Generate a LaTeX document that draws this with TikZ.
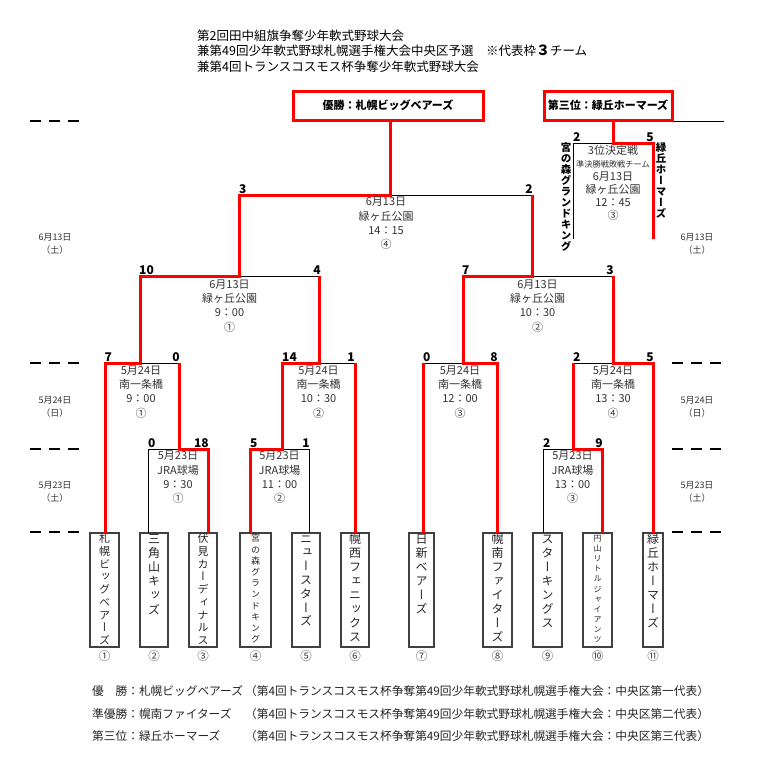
\documentclass[tikz,border=0pt]{standalone}
\usepackage{fontspec}
\setmainfont{Noto Sans CJK JP}
\newfontfamily\tatefont[RawFeature=+vert]{Noto Sans CJK JP}
\usetikzlibrary{positioning}

\makeatletter
% vertical team name: size, pitch, characters
\newcommand\tate[3]{\vbox to 114pt{\tatefont\fontsize{#1}{#2}\selectfont\lineskiplimit=-50pt
  \vskip\dimexpr5.5pt-#1pt/2\relax
  \@tfor\tate@c:=#3\do{\hbox to 1.2em{\hss\vrule height .88em depth .12em width 0pt\smash{\tate@c}\hss}}%
  \vss}}
\makeatother

\begin{document}
\begin{tikzpicture}[x=1pt,y=-1pt,
  wonline/.style={draw=red,line width=3pt},
  lostline/.style={draw=black,line width=0.9pt},
  marker/.style={line width=2pt,dash pattern=on 11pt off 8pt},
  team/.style={draw=black!75,line width=1.2pt,inner sep=0pt,minimum height=114pt,text=black!85},
  champ/.style={draw=red,line width=3pt,fill=white,inner sep=0pt,minimum height=29pt,font=\fontsize{11}{11}\selectfont\bfseries},
  info/.style={anchor=north,inner sep=0pt,align=center,font=\fontsize{11}{14.3}\selectfont,text=black!80},
  scl/.style={anchor=base west,inner sep=0pt,font=\fontsize{12}{12}\selectfont\bfseries},
  scr/.style={anchor=base east,inner sep=0pt,font=\fontsize{12}{12}\selectfont\bfseries},
  sidelbl/.style={align=center,inner sep=0pt,font=\fontsize{9}{13}\selectfont,text=black!80},
  num/.style={inner sep=0pt,font=\fontsize{11.5}{11.5}\selectfont,text=black!75},
  foot/.style={anchor=west,inner sep=0pt,font=\fontsize{11.7}{11.7}\selectfont,text=black!85}]
\useasboundingbox[fill=white] (0,0) rectangle (759,764);

% title
\node[anchor=north west,inner sep=0pt,align=left,font=\fontsize{12.5}{15.5}\selectfont] (title) at (197,29.5) {第2回田中組旗争奪少年軟式野球大会\\兼第49回少年軟式野球札幌選手権大会中央区予選　※代表枠{\bfseries\fontsize{14}{14}\selectfont ３}チーム\\兼第4回トランスコスモス杯争奪少年軟式野球大会};

% day markers
\draw[marker] (30,121) -- (79,121);
\draw[marker] (30,363) -- (79,363);
\draw[marker] (30,449) -- (79,449);
\draw[marker] (30,532) -- (79,532);
\draw[marker] (672,363) -- (721,363);
\draw[marker] (672,449) -- (721,449);
\draw[marker] (672,532) -- (721,532);
\node[sidelbl] (day_l1) at (55,243.5) {6月13日\\（土）};
\node[sidelbl] (day_l2) at (55,407) {5月24日\\（日）};
\node[sidelbl] (day_l3) at (55,491.5) {5月23日\\（土）};
\node[sidelbl] (day_r1) at (697,243.5) {6月13日\\（土）};
\node[sidelbl] (day_r2) at (697,407) {5月24日\\（日）};
\node[sidelbl] (day_r3) at (697,491.5) {5月23日\\（土）};

% result boxes
\node[champ,minimum width=190pt] (box_win) at (388,105.5) {優勝：札幌ビッグベアーズ};
\node[champ,minimum width=128pt] (box_3rd) at (608,105.5) {第三位：緑丘ホーマーズ};
\draw[line width=1.4pt] (box_3rd.south east) -- ++(50,0);

% teams
\node[team,minimum width=29pt] (tm_1) at (104.5,590) {\tate{11}{12.75}{札幌ビッグベアーズ}};
\node[team,minimum width=28pt] (tm_2) at (154,590) {\tate{12}{14.2}{三角山キッズ}};
\node[team,minimum width=28pt] (tm_3) at (203,590) {\tate{11}{12.75}{伏見カーディナルス}};
\node[team,minimum width=31pt] (tm_4) at (255.5,590) {\tate{9}{11.2}{宮の森グランドキング}};
\node[team,minimum width=28pt] (tm_5) at (306,590) {\tate{12}{13.8}{ニュースターズ}};
\node[team,minimum width=28pt] (tm_6) at (355,590) {\tate{12}{14}{幌西フェニックス}};
\node[team,minimum width=25pt] (tm_7) at (421.5,590) {\tate{12}{14}{日新ベアーズ}};
\node[team,minimum width=29pt] (tm_8) at (497.5,590) {\tate{12}{14}{幌南ファイターズ}};
\node[team,minimum width=29pt] (tm_9) at (547.5,590) {\tate{12}{14}{スターキングス}};
\node[team,minimum width=29pt] (tm_10) at (597.5,590) {\tate{8}{10.1}{円山リトルジャイアンツ}};
\node[team,minimum width=20pt] (tm_11) at (653,590) {\tate{12}{14}{緑丘ホーマーズ}};
\node[num,below=3pt of tm_1] (no_1) {①};
\node[num,below=3pt of tm_2] (no_2) {②};
\node[num,below=3pt of tm_3] (no_3) {③};
\node[num,below=3pt of tm_4] (no_4) {④};
\node[num,below=3pt of tm_5] (no_5) {⑤};
\node[num,below=3pt of tm_6] (no_6) {⑥};
\node[num,below=3pt of tm_7] (no_7) {⑦};
\node[num,below=3pt of tm_8] (no_8) {⑧};
\node[num,below=3pt of tm_9] (no_9) {⑨};
\node[num,below=3pt of tm_10] (no_10) {⑩};
\node[num,below=3pt of tm_11] (no_11) {⑪};

% bracket points
\coordinate (top_1) at (105,533);
\coordinate (top_2) at (148,533);
\coordinate (top_3) at (208,533);
\coordinate (top_4) at (250,533);
\coordinate (top_5) at (309,533);
\coordinate (top_6) at (355,533);
\coordinate (top_7) at (423,533);
\coordinate (top_8) at (497,533);
\coordinate (top_9) at (543,533);
\coordinate (top_10) at (602,533);
\coordinate (top_11) at (653,533);
\coordinate (g_1a) at (179,449);
\coordinate (g_1b) at (282,449);
\coordinate (g_1c) at (573,449);
\coordinate (g_2a) at (140,363);
\coordinate (g_2b) at (319,363);
\coordinate (g_2c) at (463,363);
\coordinate (g_2d) at (613,363);
\coordinate (g_sf1) at (239,276);
\coordinate (g_sf2) at (532,276);
\coordinate (g_fin) at (390,195);
\coordinate (g_3rd) at (613,143);
\coordinate (end_3l) at (573,239);
\coordinate (end_3r) at (653,239);

% losing sides
\draw[lostline] (top_2) |- (g_1a);
\draw[lostline] (top_5) |- (g_1b);
\draw[lostline] (top_9) |- (g_1c);
\draw[lostline] (g_2a) -- (g_1a |- g_2a);
\draw[lostline] (g_2b) -- (top_6 |- g_2b);
\draw[lostline] (g_2c) -- (top_7 |- g_2c);
\draw[lostline] (g_2d) -- (g_1c |- g_2d);
\draw[lostline] (g_sf1) -- (g_2b |- g_sf1);
\draw[lostline] (g_sf2) -- (g_2d |- g_sf2);
\draw[lostline] (g_fin) -- (g_sf2 |- g_fin);
\draw[lostline] (g_3rd) -| (end_3l);

% winning sides
\draw[wonline] (top_1) |- (g_2a) |- (g_sf1) |- (g_fin) -- (g_fin |- box_win.south);
\draw[wonline] (top_3) |- (g_1a) -- (g_1a |- g_2a);
\draw[wonline] (top_4) |- (g_1b) |- (g_2b) -- (g_2b |- g_sf1);
\draw[wonline] (top_6) -- (top_6 |- g_2b);
\draw[wonline] (top_7) -- (top_7 |- g_2c);
\draw[wonline] (top_8) |- (g_2c) |- (g_sf2) -- (g_sf2 |- g_fin);
\draw[wonline] (top_10) |- (g_1c) -- (g_1c |- g_2d);
\draw[wonline] (top_11) |- (g_2d) -- (g_2d |- g_sf2);
\draw[wonline] (g_3rd |- box_3rd.south) -- (g_3rd) -| (end_3r);

% scores
\node[scl] (sc_1a_l) at (148,447) {0};
\node[scr] (sc_1a_r) at (209,447) {18};
\node[scl] (sc_1b_l) at (250,447) {5};
\node[scr] (sc_1b_r) at (310,447) {1};
\node[scl] (sc_1c_l) at (543,447) {2};
\node[scr] (sc_1c_r) at (603,447) {9};
\node[scl] (sc_2a_l) at (104.5,361) {7};
\node[scr] (sc_2a_r) at (180,361) {0};
\node[scl] (sc_2b_l) at (282,361) {14};
\node[scr] (sc_2b_r) at (355,361) {1};
\node[scl] (sc_2c_l) at (423,361) {0};
\node[scr] (sc_2c_r) at (498,361) {8};
\node[scl] (sc_2d_l) at (573,361) {2};
\node[scr] (sc_2d_r) at (654,361) {5};
\node[scl] (sc_sf1_l) at (139,274) {10};
\node[scr] (sc_sf1_r) at (321,274) {4};
\node[scl] (sc_sf2_l) at (462,274) {7};
\node[scr] (sc_sf2_r) at (614,274) {3};
\node[scl] (sc_fin_l) at (239,193) {3};
\node[scr] (sc_fin_r) at (533,193) {2};
\node[scl] (sc_3rd_l) at (573,141) {2};
\node[scr] (sc_3rd_r) at (654,141) {5};

% game info
\node[info] (info_1a) at (178,451) {5月23日\\JRA球場\\9：30\\①};
\node[info] (info_1b) at (279.5,451) {5月23日\\JRA球場\\11：00\\②};
\node[info] (info_1c) at (572.5,451) {5月23日\\JRA球場\\13：00\\③};
\node[info] (info_2a) at (141,365.5) {5月24日\\南一条橋\\9：00\\①};
\node[info] (info_2b) at (318.5,365.5) {5月24日\\南一条橋\\10：30\\②};
\node[info] (info_2c) at (460,365.5) {5月24日\\南一条橋\\12：00\\③};
\node[info] (info_2d) at (613,365.5) {5月24日\\南一条橋\\13：30\\④};
\node[info] (info_sf1) at (229.5,279.5) {6月13日\\緑ヶ丘公園\\9：00\\①};
\node[info] (info_sf2) at (537.5,279.5) {6月13日\\緑ヶ丘公園\\10：30\\②};
\node[info] (info_fin) at (386,197) {6月13日\\緑ヶ丘公園\\14：15\\④};
\node[info,font=\fontsize{11}{13}\selectfont] (info_3rd) at (613,145.5) {3位決定戦\\{\fontsize{8.2}{13}\selectfont 準決勝戦敗戦チーム}\\6月13日\\緑ヶ丘公園\\12：45\\③};
\node[anchor=north,inner sep=0pt,font=\bfseries] (nm_3l) at (566,141.5) {\tate{10.5}{11}{宮の森グランドキング}};
\node[anchor=north,inner sep=0pt,font=\bfseries] (nm_3r) at (661,141.5) {\tate{10.5}{11}{緑丘ホーマーズ}};

% footer
\node[foot] (ft_1) at (92,691) {優　勝：札幌ビッグベアーズ};
\node[foot] (ft_2) at (92,714) {準優勝：幌南ファイターズ};
\node[foot] (ft_3) at (92,736) {第三位：緑丘ホーマーズ};
\node[foot] (ft_1r) at (245,691) {（第4回トランスコスモス杯争奪第49回少年軟式野球札幌選手権大会：中央区第一代表）};
\node[foot] (ft_2r) at (245,714) {（第4回トランスコスモス杯争奪第49回少年軟式野球札幌選手権大会：中央区第二代表）};
\node[foot] (ft_3r) at (245,736) {（第4回トランスコスモス杯争奪第49回少年軟式野球札幌選手権大会：中央区第三代表）};
\end{tikzpicture}
\end{document}
